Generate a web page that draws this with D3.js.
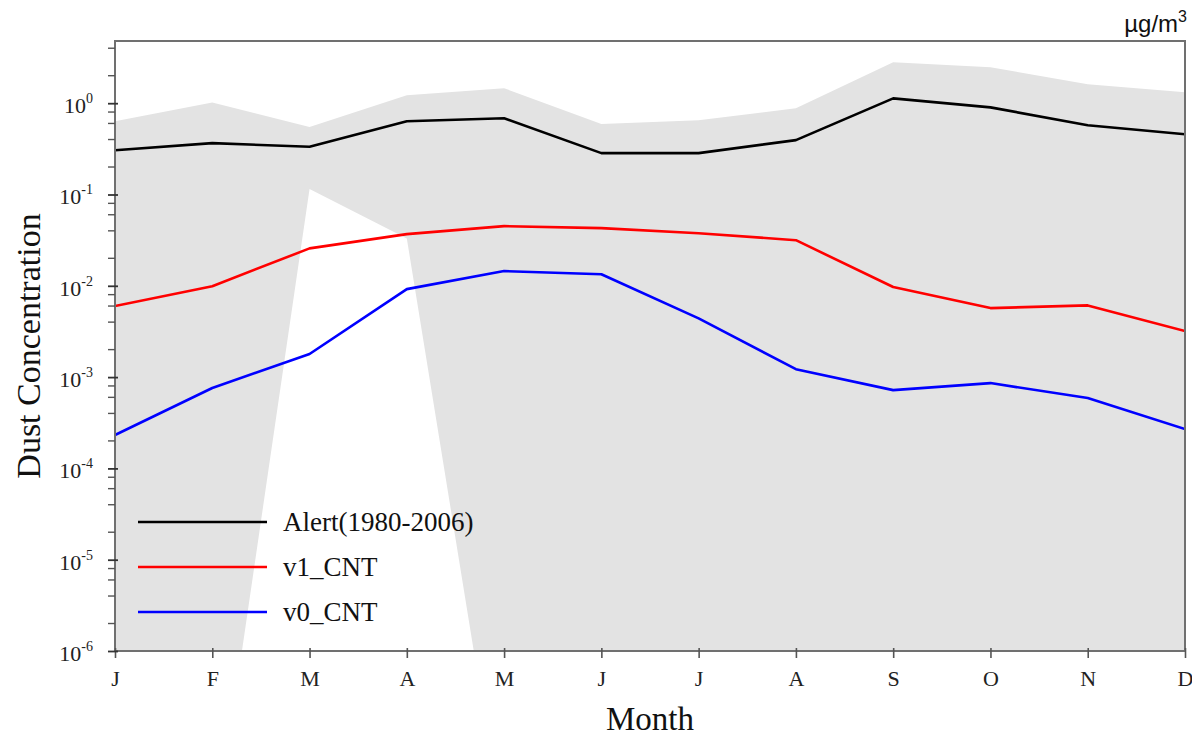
<!DOCTYPE html>
<html><head><meta charset="utf-8">
<script src="https://cdn.jsdelivr.net/npm/d3@7"></script>
<style>body{margin:0;background:#fff}</style>
</head><body>
<svg id="c" width="1192" height="738"></svg>
<script>
const months = ["J","F","M","A","M","J","J","A","S","O","N","D"];
const alert = [0.305,0.365,0.333,0.635,0.685,0.284,0.284,0.394,1.13,0.90,0.574,0.457];
const v1 = [0.0060,0.0099,0.0257,0.0368,0.045,0.0428,0.0377,0.0316,0.0097,0.0057,0.0061,0.0032];
const v0 = [2.32e-4,7.6e-4,1.79e-3,9.2e-3,0.0145,0.0134,4.4e-3,1.22e-3,7.2e-4,8.6e-4,5.9e-4,2.7e-4];
const bandHigh = [0.635,1.02,0.55,1.22,1.46,0.59,0.65,0.88,2.81,2.48,1.61,1.32];
const bandLow = [1e-9,6e-9,0.115,0.033,9e-9,1e-9,1e-9,1e-9,1e-9,1e-9,1e-9,1e-9];
const yTickExps = [-6,-5,-4,-3,-2,-1,0];
const legendItems = [["Alert(1980-2006)","#000000",alert],["v1_CNT","#ff0000",v1],["v0_CNT","#0000ff",v0]];

const L=115,R=1185,T=41,B=651;
const svg=d3.select("#c");
const x=d3.scaleLinear().domain([0,months.length-1]).range([L,R]);
const y=d3.scaleLog().domain([1e-6,4.8]).range([B,T]);

svg.append("clipPath").attr("id","clip").append("rect").attr("x",L).attr("y",T).attr("width",R-L).attr("height",B-T);
const g=svg.append("g").attr("clip-path","url(#clip)");

const area=d3.area().x((d,i)=>x(i)).y0((d,i)=>y(bandLow[i])).y1(d=>y(d));
g.append("path").datum(bandHigh).attr("d",area).attr("fill","#e3e3e3");

const line=d3.line().x((d,i)=>x(i)).y(d=>y(d));
legendItems.forEach(([name,col,data])=>{
  g.append("path").datum(data).attr("d",line).attr("fill","none").attr("stroke",col).attr("stroke-width",2.6).attr("stroke-linejoin","round");
});

// frame
svg.append("rect").attr("x",L).attr("y",T).attr("width",R-L).attr("height",B-T).attr("fill","none").attr("stroke","#707070").attr("stroke-width",2);

// bottom axis
const xa=svg.append("g").attr("transform",`translate(0,${B})`)
  .call(d3.axisBottom(x).tickValues(d3.range(months.length)).tickFormat(i=>months[i]).tickSize(7).tickPadding(12));
xa.select(".domain").remove();
xa.selectAll(".tick line").attr("stroke","#555").attr("stroke-width",1.6).attr("y1",-3);
xa.selectAll(".tick text").attr("font-family","'Liberation Serif',serif").attr("font-size",22).attr("fill","#222");

// left axis minor ticks
const minor=[];
for(let e=-6;e<=0;e++){[2,4,6,8].forEach(m=>{const v=m*Math.pow(10,e); if(v<=4.8) minor.push(v);});}
svg.append("g").selectAll("line").data(minor).join("line")
  .attr("x1",L-7).attr("x2",L).attr("y1",d=>y(d)).attr("y2",d=>y(d)).attr("stroke","#555").attr("stroke-width",1.4);
const ya=svg.append("g").attr("transform",`translate(${L},0)`)
  .call(d3.axisLeft(y).tickValues(yTickExps.map(e=>Math.pow(10,e))).tickFormat("").tickSize(7));
ya.select(".domain").remove();
ya.selectAll(".tick line").attr("stroke","#333").attr("stroke-width",1.8).attr("x1",3);
const yl=svg.append("g");
yTickExps.forEach(e=>{
  const t=yl.append("text").attr("x",93).attr("y",y(Math.pow(10,e))+10).attr("text-anchor","end")
    .attr("font-family","'Liberation Serif',serif").attr("font-size",22).attr("fill","#222");
  t.append("tspan").text("10");
  t.append("tspan").attr("dy",-10).attr("font-size",14).text(String(e));
});

// titles
svg.append("text").attr("transform",`translate(40,${(T+B)/2}) rotate(-90)`).attr("text-anchor","middle")
  .attr("font-family","'Liberation Serif',serif").attr("font-size",34).attr("fill","#111").text("Dust Concentration");
svg.append("text").attr("x",(L+R)/2).attr("y",730).attr("text-anchor","middle")
  .attr("font-family","'Liberation Serif',serif").attr("font-size",33).attr("fill","#111").text("Month");
const u=svg.append("text").attr("x",1187).attr("y",32).attr("text-anchor","end")
  .attr("font-family","'Liberation Sans',Arial,sans-serif").attr("font-size",24).attr("fill","#111");
u.append("tspan").text("µg/m");
u.append("tspan").attr("dy",-10).attr("font-size",16).text("3");

// legend
const lg=svg.append("g");
legendItems.forEach(([name,col],i)=>{
  const yy=522+i*45;
  lg.append("line").attr("x1",138).attr("x2",267).attr("y1",yy).attr("y2",yy).attr("stroke",col).attr("stroke-width",2.6);
  lg.append("text").attr("x",283).attr("y",yy+9).attr("font-family","'Liberation Serif',serif").attr("font-size",27).attr("fill","#111").text(name);
});
</script>
</body></html>
